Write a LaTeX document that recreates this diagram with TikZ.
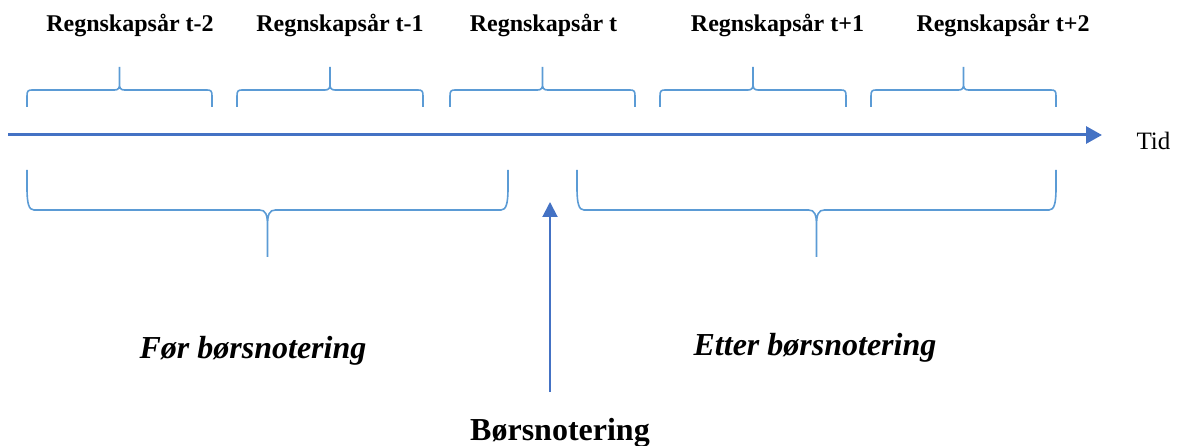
\documentclass[tikz,border=0pt]{standalone}
\usepackage{fontspec}
\setmainfont{Liberation Serif}
\usetikzlibrary{arrows.meta}
\definecolor{axisblue}{HTML}{4472C4}
\definecolor{braceblue}{HTML}{5B9BD5}
\tikzset{
  bracestyle/.style={draw=braceblue, line width=1.6pt},
  axisstyle/.style={draw=axisblue, line width=3pt, -{Triangle[length=16pt,width=17pt]}},
  markstyle/.style={draw=axisblue, line width=2pt, -{Triangle[length=15pt,width=15pt]}},
  yearlabel/.style={anchor=base, inner sep=0pt, font=\fontsize{24}{28}\selectfont\bfseries},
  phaselabel/.style={anchor=base, inner sep=0pt, font=\fontsize{32}{36}\selectfont\bfseries\itshape},
  mainlabel/.style={anchor=base, inner sep=0pt, font=\fontsize{32}{36}\selectfont\bfseries},
  tidlabel/.style={anchor=base, inner sep=0pt, font=\fontsize{25}{28}\selectfont}
}
\newcommand{\topbrc}[2]{%
  \pgfmathsetmacro{\xc}{(#1+#2)/2}%
  \draw[bracestyle, line join=round]
    (#1,107) -- (#1,96) .. controls (#1,91) and (#1+1,90) .. (#1+5,90)
    -- (\xc-5,90) .. controls (\xc-1,90) and (\xc,88) .. (\xc,84) -- (\xc,67)
    (\xc,84) .. controls (\xc,88) and (\xc+1,90) .. (\xc+5,90)
    -- (#2-5,90) .. controls (#2-1,90) and (#2,91) .. (#2,96) -- (#2,107);}
\newcommand{\botbrc}[2]{%
  \pgfmathsetmacro{\xc}{(#1+#2)/2}%
  \draw[bracestyle, line join=round]
    (#1,170) -- (#1,188) .. controls (#1,204) and (#1+2,210) .. (#1+7,210)
    -- (\xc-8,210) .. controls (\xc-2,210) and (\xc,214) .. (\xc,226) -- (\xc,257)
    (\xc,226) .. controls (\xc,214) and (\xc+2,210) .. (\xc+8,210)
    -- (#2-7,210) .. controls (#2-2,210) and (#2,204) .. (#2,188) -- (#2,170);}
\begin{document}
\begin{tikzpicture}[x=1pt,y=-1pt]
\useasboundingbox (0,0) rectangle (1177,446);
% year labels
\node[yearlabel] (y1) at (130,32) {Regnskapsår t-2};
\node[yearlabel] (y2) at (340,32) {Regnskapsår t-1};
\node[yearlabel] (y3) at (543.5,32) {Regnskapsår t};
\node[yearlabel] (y4) at (777.5,32) {Regnskapsår t+1};
\node[yearlabel] (y5) at (1003,32) {Regnskapsår t+2};
% top braces
\topbrc{27}{212}
\topbrc{237}{423}
\topbrc{450}{635}
\topbrc{660}{846}
\topbrc{871}{1056}
% time axis
\coordinate (a0) at (8,135);
\coordinate (a1) at (1102,135);
\draw[axisstyle] (a0) -- (a1);
\node[tidlabel] (tid) at (1153.5,150) {Tid};
% bottom braces
\botbrc{27}{508}
\botbrc{577}{1056}
% phase labels
\node[phaselabel] (pre) at (253,358) {Før børsnotering};
\node[phaselabel] (post) at (815,355) {Etter børsnotering};
% listing
\node[mainlabel] (bn) at (560,440) {Børsnotering};
\coordinate (m0) at (550,392);
\coordinate (m1) at (550,202);
\draw[markstyle] (m0) -- (m1);
\end{tikzpicture}
\end{document}
